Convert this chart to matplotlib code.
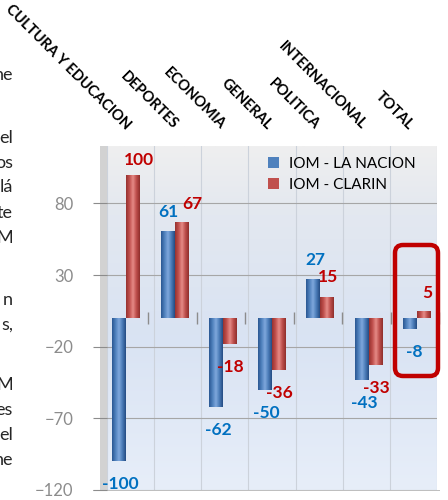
import matplotlib
matplotlib.use("Agg")
import matplotlib.pyplot as plt
import matplotlib.transforms as mtransforms
import numpy as np
from matplotlib.colors import LinearSegmentedColormap
from matplotlib.patches import FancyBboxPatch, Patch, Rectangle

categories = ["CULTURA Y EDUCACION", "DEPORTES", "ECONOMIA", "GENERAL",
              "POLITICA", "INTERNACIONAL", "TOTAL"]
la_nacion = [-100, 61, -62, -50, 27, -43, -8]
clarin = [100, 67, -18, -36, 15, -33, 5]
series_names = ["IOM - LA NACION", "IOM - CLARIN"]
y_ticks = [-120, -70, -20, 30, 80]
# cut-off words of the page text left of the chart
page_fragments = ["ne", "el", "os", "lá", "te", "M", "n", "s,", "M", "es", "el", "ne"]

# layout (pixels of the 448x500 picture)
W, H = 448, 500
fragment_y = [75, 138, 163, 187, 213, 238, 300, 325, 385, 410, 435, 460]
blue_dx = [1, 1, 2, 2, 2, 3, 4]
red_dx = [6, 11, 0, 1, 1, 1, 3]
red_dy = [15, 18, 19, 19, 19, 19, 18]

BLUE = "#4f81bd"
RED = "#c0504d"
LBL_BLUE = "#0070c0"
LBL_RED = "#c00000"
GRAY = "#8c8c8c"

plt.rcParams["font.family"] = ["Lato", "DejaVu Sans"]

fig = plt.figure(figsize=(W / 100, H / 100), dpi=100)
ax_left, ax_bottom, ax_w, ax_h = 107, 10, 330, 344
ax = fig.add_axes([ax_left / W, ax_bottom / H, ax_w / W, ax_h / H])
ax.set_zorder(1)

n = len(categories)
xmin, xmax, ymin, ymax = -0.5, n - 0.5, -120, 120
px_per_unit = ax_w / n

# back wall gradient
wall = LinearSegmentedColormap.from_list(
    "wall", [(0, "#e7eef9"), (0.45, "#d9e3f3"), (0.8, "#e3e8f0"), (1, "#efefef")])
ax.imshow(np.linspace(0, 1, 256).reshape(-1, 1), cmap=wall, origin="lower",
          extent=[xmin, xmax, ymin, ymax], aspect="auto", zorder=0)

# side wall and floor, kept behind the axes
fig.patches.append(Rectangle((100 / W, ax_bottom / H), 7 / W, ax_h / H,
                             transform=fig.transFigure, fc="#d2d2d2", ec="none", zorder=0))
fig.patches.append(Rectangle((93 / W, (ax_bottom - 1) / H), 347 / W, 1.2 / H,
                             transform=fig.transFigure, fc="#bfbfbf", ec="none", zorder=0))

ax.set_yticks(y_ticks)
ax.grid(axis="y", color="#a6a6a6", lw=0.8, zorder=1)
for k in range(n + 1):
    ax.axvline(k - 0.5, color="#ccd2db", lw=0.8, zorder=1)

# bar positions, with a little perspective spread like the original 3D chart
split = (126 + 48.5 * np.arange(n) - ax_left) / px_per_unit - 0.5
bw = 13.7 / px_per_unit

blue_cmap = LinearSegmentedColormap.from_list(
    "b", ["#2a5792", "#4f81bd", "#7fa8dc", "#4a7bb7", "#244c83"])
red_cmap = LinearSegmentedColormap.from_list(
    "r", ["#973230", "#c0504d", "#e68b87", "#bd4e4b", "#8f2f2c"])
shade = np.linspace(0, 1, 64).reshape(1, -1)

bars_b = ax.bar(split - bw / 2, la_nacion, bw, color=BLUE, zorder=3, label=series_names[0])
bars_r = ax.bar(split + bw / 2, clarin, bw, color=RED, zorder=3, label=series_names[1])
for bars, cmap in ((bars_b, blue_cmap), (bars_r, red_cmap)):
    for b in bars:
        x0, y0 = b.get_x(), b.get_y()
        im = ax.imshow(shade, cmap=cmap, aspect="auto", zorder=4,
                       extent=[x0, x0 + b.get_width(), y0, y0 + b.get_height()])
        im.set_clip_path(b)

# tick marks on the zero plane between groups
ax.plot(split + 0.47, np.zeros(n), "|", ms=8, mew=1, color=GRAY, zorder=5, clip_on=False)

# data labels
for i in range(n):
    for v, xc, dx, col, up in ((la_nacion[i], split[i] - bw / 2, blue_dx[i], LBL_BLUE, 19),
                               (clarin[i], split[i] + bw / 2, red_dx[i], LBL_RED, red_dy[i])):
        dy = up if v > 0 else -23
        ax.annotate(f"{v}", (xc, v), xytext=(dx, dy), textcoords="offset pixels",
                    ha="center", va="center", fontsize=12.5, fontweight="bold",
                    color=col, zorder=6, annotation_clip=False)

# highlight box around TOTAL
x0 = (395 - ax_left) / px_per_unit - 0.5
x1 = (438 - ax_left) / px_per_unit - 0.5
ya = (H - ax_bottom - 376) / (ax_h / 240) - 120
yb = (H - ax_bottom - 245) / (ax_h / 240) - 120
rs = 8 / px_per_unit
ax.add_patch(FancyBboxPatch((x0, ya), x1 - x0, yb - ya,
                            boxstyle=f"round,pad=0,rounding_size={rs}",
                            mutation_aspect=(8 / (ax_h / 240)) / rs,
                            fc="none", ec=LBL_RED, lw=3.2, zorder=7, clip_on=False))

# category labels, rotated above the wall
trans = mtransforms.blended_transform_factory(ax.transData, ax.transAxes)
for i, cat in enumerate(categories):
    ax.text(i - 5 / px_per_unit, (H - ax_bottom - 130) / ax_h, cat, transform=trans,
            rotation=-45, rotation_mode="anchor", ha="right", va="baseline",
            fontsize=10.5, fontweight="bold", color="black")

ax.set_xlim(xmin, xmax)
ax.set_ylim(ymin, ymax)
ax.set_xticks([])
for s in ax.spines.values():
    s.set_visible(False)
ax.tick_params(axis="y", length=10, width=0.8, color=GRAY, labelcolor=GRAY,
               labelsize=12, pad=14)

ax.legend(handles=[Patch(fc=BLUE), Patch(fc=RED)], labels=series_names,
          loc="upper left", bbox_to_anchor=((268 - ax_left) / ax_w, (H - ax_bottom - 157) / ax_h),
          frameon=False, handlelength=0.75, handleheight=0.75, handletextpad=0.6,
          borderpad=0, borderaxespad=0, labelspacing=0.45, fontsize=11)

for frag, y in zip(page_fragments, fragment_y):
    fig.text(13 / W, 1 - y / H, frag, ha="right", va="center", fontsize=13, color="#262626")

fig.savefig("out.png", dpi=100)
